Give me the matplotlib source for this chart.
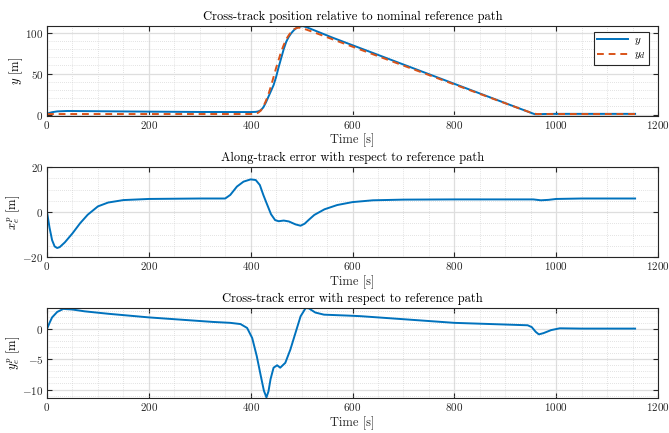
import matplotlib
matplotlib.use("Agg")
import matplotlib.pyplot as plt
from matplotlib.ticker import MultipleLocator

plt.rcParams["font.family"] = ["cmr10", "DejaVu Serif"]
plt.rcParams["mathtext.fontset"] = "cm"
plt.rcParams["axes.formatter.use_mathtext"] = True
plt.rcParams["axes.unicode_minus"] = True

BLUE = "#0072BD"
ORANGE = "#D95319"
FRAME = "#262626"

# Cross-track position y and desired y_d
t_y = [0, 5, 10, 20, 40, 100, 200, 300, 400, 410, 415, 420, 425, 430, 435,
       440, 445, 450, 455, 460, 465, 470, 475, 480, 485, 490, 495, 500, 503,
       510, 520, 540, 560, 580, 600, 700, 800, 900, 950, 958, 965, 975, 1000, 1155]
y_pos = [1.0, 2.2, 3.0, 4.0, 4.5, 4.2, 3.7, 3.3, 3.2, 3.4, 4.0, 5.5, 9.0, 15.0, 22.0,
         29.0, 36.0, 46.0, 58.0, 69.0, 80.0, 89.0, 95.0, 99.5, 103.0, 105.5, 107.0, 107.7, 107.8,
         106.5, 104.0, 99.0, 94.0, 89.3, 84.6, 61.1, 37.6, 14.1, 2.4, 0.6, 0.5, 0.8, 1.0, 1.0]

t_yd = [0, 100, 200, 300, 400, 410, 415, 420, 425, 430, 435, 440, 445, 450,
        455, 460, 465, 470, 475, 480, 485, 490, 494, 500, 510, 530, 560, 600,
        700, 800, 900, 955, 962, 1000, 1155]
y_des = [0.8, 0.8, 0.8, 0.8, 0.8, 1.0, 2.5, 5.0, 10.0, 17.0, 25.0, 35.0, 46.0, 57.0,
         67.0, 77.0, 85.0, 92.0, 97.0, 101.0, 104.0, 105.5, 106.0, 105.5, 103.5, 99.0, 92.0, 82.8,
         59.8, 36.8, 13.9, 1.4, 0.8, 0.8, 0.8]

# Along-track error x_e^p
t_xe = [0, 5, 10, 15, 20, 25, 35, 50, 65, 80, 100, 120, 150, 200, 300, 350,
        360, 373, 386, 400, 410, 418, 425, 432, 440, 448, 455, 465, 475, 488,
        498, 506, 515, 525, 545, 570, 600, 640, 700, 800, 900, 955, 970, 985,
        1000, 1050, 1155]
x_e = [0.0, -7.0, -12.5, -15.3, -16.0, -15.6, -13.5, -9.5, -5.0, -1.2, 2.5, 4.2, 5.3, 5.8, 6.0, 6.0,
       7.6, 11.3, 13.5, 14.5, 14.2, 12.0, 7.5, 3.5, -1.0, -3.6, -4.1, -3.8, -4.2, -5.5,
       -6.1, -5.2, -3.3, -1.3, 1.2, 3.1, 4.4, 5.2, 5.5, 5.6, 5.6, 5.6, 5.2, 5.4,
       5.8, 6.0, 6.0]

# Cross-track error y_e^p
t_ye = [0, 5, 10, 20, 32, 50, 74, 120, 200, 326, 360, 380, 393, 403, 412,
        420, 426, 431, 435, 439, 445, 452, 458, 468, 478, 488, 498, 508, 514,
        527, 544, 590, 616, 700, 800, 944, 952, 960, 966, 975, 990, 1007, 1050, 1155]
y_e = [0.0, 1.0, 1.9, 2.8, 3.3, 3.2, 2.9, 2.5, 1.9, 1.15, 1.0, 0.8, 0.16, -1.5, -4.5,
       -7.8, -10.2, -11.3, -10.3, -8.3, -6.4, -6.0, -6.4, -5.6, -3.4, -0.66, 2.07, 3.44, 3.4,
       2.7, 2.35, 2.2, 2.1, 1.6, 1.0, 0.6, 0.3, -0.5, -0.9, -0.7, -0.2, 0.1, 0.05, 0.05]

W, H = 669, 433
fig = plt.figure(figsize=(W / 100, H / 100), dpi=100)

def frac(left, top, right, bottom):
    return [left / W, 1 - bottom / H, (right - left) / W, (bottom - top) / H]

ax1 = fig.add_axes(frac(47, 26, 658, 115.5))
ax2 = fig.add_axes(frac(47, 167, 658, 257))
ax3 = fig.add_axes(frac(47, 308, 658, 398))

def style(ax, ymajor, yminor):
    ax.set_xlim(0, 1200)
    ax.xaxis.set_major_locator(MultipleLocator(200))
    ax.xaxis.set_minor_locator(MultipleLocator(50))
    ax.yaxis.set_major_locator(MultipleLocator(ymajor))
    ax.yaxis.set_minor_locator(MultipleLocator(yminor))
    ax.grid(which="major", color="#dedede", linewidth=0.9)
    ax.grid(which="minor", color="#c8c8c8", linewidth=0.5, linestyle=(0, (1, 2)))
    ax.set_axisbelow(True)
    ax.tick_params(which="major", direction="in", length=3.5, width=0.8, pad=2.5,
                   top=True, right=True, labelsize=8, color=FRAME, labelcolor=FRAME)
    ax.tick_params(which="minor", length=0, top=True, right=True)
    for s in ax.spines.values():
        s.set_color(FRAME)
        s.set_linewidth(0.8)
    ax.set_xlabel("Time [s]", fontsize=9, labelpad=2, color=FRAME)

ax1.plot(t_y, y_pos, color=BLUE, lw=1.4, label=r"$y$")
ax1.plot(t_yd, y_des, color=ORANGE, lw=1.4, linestyle=(0, (3.5, 2.5)), label=r"$y_d$")
style(ax1, 50, 10)
ax1.set_ylim(-1, 108)
ax1.set_ylabel(r"$y$ [m]", fontsize=9, labelpad=0)
ax1.set_title("Cross-track position relative to nominal reference path", fontsize=9, pad=4)
leg = ax1.legend(loc="upper right", fontsize=8, frameon=True, fancybox=False,
                 edgecolor=FRAME, framealpha=1, handlelength=2.8, handletextpad=0.5,
                 borderpad=0.3, labelspacing=0.25, borderaxespad=0,
                 bbox_to_anchor=(0.985, 0.935))
leg.get_frame().set_linewidth(0.8)

ax2.plot(t_xe, x_e, color=BLUE, lw=1.4)
style(ax2, 20, 5)
ax2.set_ylim(-20, 20)
ax2.set_ylabel(r"$x_e^p$ [m]", fontsize=9, labelpad=0)
ax2.set_title("Along-track error with respect to reference path", fontsize=9, pad=4)

ax3.plot(t_ye, y_e, color=BLUE, lw=1.4)
style(ax3, 5, 1)
ax3.set_ylim(-11.4, 3.45)
ax3.set_ylabel(r"$y_e^p$ [m]", fontsize=9, labelpad=0)
ax3.set_title("Cross-track error with respect to reference path", fontsize=9, pad=4)

fig.savefig("out.png", dpi=100)
